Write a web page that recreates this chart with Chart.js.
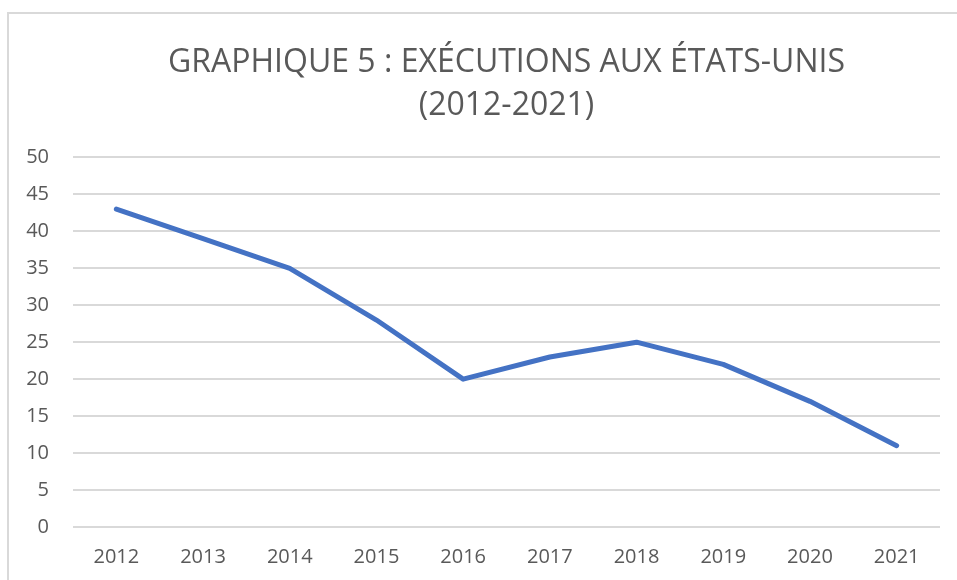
<!DOCTYPE html>
<html lang="fr">
<head>
<meta charset="utf-8">
<script src="https://cdn.jsdelivr.net/npm/chart.js@4/dist/chart.umd.min.js"></script>
<style>
  html, body { margin: 0; padding: 0; background: #fff; }
  #wrap { position: relative; width: 957px; height: 580px; overflow: hidden; }
  #frame { position: absolute; left: 7px; top: 12px; width: 1000px; height: 700px;
           border-top: 2px solid #d9d9d9; border-left: 2px solid #d9d9d9; }
  #chart-canvas { position: absolute; left: 0; top: 0; }
</style>
</head>
<body>
<div id="wrap">
  <div id="frame"></div>
  <canvas id="chart-canvas" width="957" height="580"></canvas>
</div>
<script>
/* -------------  DATA  ------------- */
const years = ['2012', '2013', '2014', '2015', '2016', '2017', '2018', '2019', '2020', '2021'];
const executions = [43, 39, 35, 28, 20, 23, 25, 22, 17, 11];
const titleLines = ['GRAPHIQUE 5 : EXÉCUTIONS AUX ÉTATS-UNIS', '(2012-2021)'];

const textGray = '#595959';
const gridGray = '#d9d9d9';

/**
 * Builds the chart configuration.
 */
function setChartConfig() {
  return {
    type: 'line',
    data: {
      labels: years,
      datasets: [{
        label: 'Exécutions',
        data: executions,
        borderColor: '#4472c4',
        backgroundColor: '#4472c4',
        borderWidth: 5,
        borderCapStyle: 'round',
        borderJoinStyle: 'round',
        pointRadius: 0,
        tension: 0,
      }],
    },
    options: {
      responsive: false,
      animation: false,
      layout: { padding: { left: 0, right: 17, top: 0, bottom: 0 } },
      plugins: {
        legend: { display: false },
        tooltip: { enabled: false },
        title: {
          display: true,
          fullSize: false, // centre the title over the plot area
          text: titleLines,
          color: textGray,
          font: { family: 'Open Sans', size: 32, weight: 'normal', lineHeight: 1.35 },
          padding: { top: 41, bottom: 30 },
        },
      },
      scales: {
        x: {
          offset: true,
          grid: { display: false, drawTicks: false },
          border: { display: false },
          ticks: { color: textGray, font: { family: 'Open Sans', size: 20 }, padding: 18 },
          afterFit: (scale) => { scale.height = 53; },
        },
        y: {
          min: 0,
          max: 50,
          grid: { color: gridGray, lineWidth: 2, drawTicks: false },
          border: { display: false },
          ticks: { stepSize: 5, color: textGray, font: { family: 'Open Sans', size: 20 }, padding: 24 },
          afterFit: (scale) => { scale.width = 73; },
        },
      },
    },
  };
}

new Chart(document.getElementById('chart-canvas'), setChartConfig());
</script>
</body>
</html>
